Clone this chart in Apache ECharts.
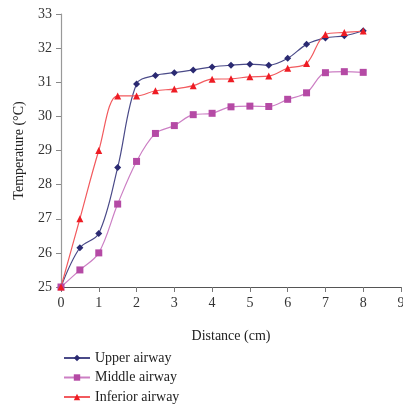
<!DOCTYPE html>
<html>
<head>
<meta charset="utf-8">
<script src="https://cdn.jsdelivr.net/npm/echarts@6/dist/echarts.min.js"></script>
<style>
  html, body { margin: 0; padding: 0; background: #fff; }
  #chart { width: 403px; height: 406px; }
</style>
</head>
<body>
<div id="chart"></div>
<script>
// distance (cm)
const distance = [0, 0.5, 1, 1.5, 2, 2.5, 3, 3.5, 4, 4.5, 5, 5.5, 6, 6.5, 7, 7.5, 8];
// temperatures (°C)
const upperAirway = [25, 26.15, 26.57, 28.5, 30.95, 31.2, 31.28, 31.36, 31.45, 31.5, 31.53, 31.5, 31.7, 32.11, 32.3, 32.36, 32.51];
const middleAirway = [25, 25.5, 26.0, 27.43, 28.68, 29.5, 29.73, 30.05, 30.09, 30.28, 30.3, 30.29, 30.5, 30.69, 31.28, 31.31, 31.29];
const inferiorAirway = [25, 27.0, 29.0, 30.6, 30.6, 30.75, 30.8, 30.9, 31.09, 31.1, 31.16, 31.18, 31.41, 31.55, 32.4, 32.46, 32.5];
const seriesNames = ['Upper airway', 'Middle airway', 'Inferior airway'];

const font = 'Liberation Serif';
const pairs = (arr) => distance.map((d, i) => [d, arr[i]]);

const myChart = echarts.init(document.getElementById('chart'));

// one legend per row, so they stack like the original
const legends = seriesNames.map((name, i) => ({
  left: 58,
  top: 346 + i * 19.5,
  itemWidth: 26,
  itemHeight: 8,
  textStyle: { fontFamily: font, fontSize: 14, color: '#222' },
  data: [name]
}));

const option = {
  animation: false,
  grid: {
    left: 61,
    right: 2,
    top: 14,
    bottom: 119,
    outerBoundsMode: 'none'
  },
  legend: legends,
  xAxis: {
    type: 'value',
    min: 0,
    max: 9,
    interval: 1,
    name: 'Distance (cm)',
    nameLocation: 'middle',
    nameGap: 42,
    nameTextStyle: { fontFamily: font, fontSize: 14, color: '#222' },
    axisLine: { lineStyle: { color: '#555', width: 1.2 } },
    axisTick: { lineStyle: { color: '#777' }, length: 5 },
    axisLabel: { fontFamily: font, fontSize: 14, color: '#333', margin: 9 },
    splitLine: { show: false }
  },
  yAxis: {
    type: 'value',
    min: 25,
    max: 33,
    interval: 1,
    name: 'Temperature (°C)',
    nameLocation: 'middle',
    nameGap: 35,
    nameTextStyle: { fontFamily: font, fontSize: 14, color: '#222' },
    axisLine: { show: true, lineStyle: { color: '#999', width: 1.2 } },
    axisTick: { show: true, lineStyle: { color: '#888' }, length: 5 },
    axisLabel: { fontFamily: font, fontSize: 14, color: '#333', margin: 9 },
    splitLine: { show: false }
  },
  series: [
    {
      name: seriesNames[0],
      type: 'line',
      smooth: 0.35,
      symbol: 'diamond',
      symbolSize: 7,
      itemStyle: { color: '#2b2a72' },
      lineStyle: { color: '#4a4a88', width: 1.2 },
      data: pairs(upperAirway)
    },
    {
      name: seriesNames[1],
      type: 'line',
      smooth: 0.35,
      symbol: 'rect',
      symbolSize: 7,
      itemStyle: { color: '#b54aa5' },
      lineStyle: { color: '#cc7fc4', width: 1.2 },
      data: pairs(middleAirway)
    },
    {
      name: seriesNames[2],
      type: 'line',
      smooth: 0.35,
      symbol: 'triangle',
      symbolSize: 7,
      itemStyle: { color: '#ee1c24' },
      lineStyle: { color: '#f25a5e', width: 1.2 },
      data: pairs(inferiorAirway)
    }
  ]
};
myChart.setOption(option);
</script>
</body>
</html>
